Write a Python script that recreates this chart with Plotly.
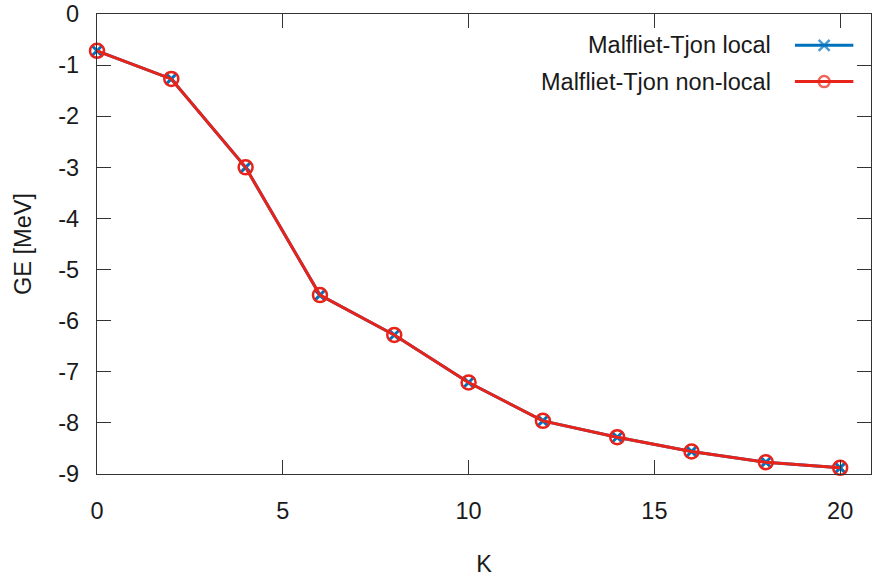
import plotly.graph_objects as go

# Ground-state energy vs. K for the Malfliet-Tjon potential
K = [0, 2, 4, 6, 8, 10, 12, 14, 16, 18, 20]
ge_local = [-0.72, -1.27, -3.00, -5.50, -6.28, -7.21, -7.96, -8.28, -8.56, -8.77, -8.88]
ge_nonlocal = [-0.72, -1.27, -3.00, -5.50, -6.28, -7.21, -7.96, -8.28, -8.56, -8.77, -8.88]

series_names = ["Malfliet-Tjon local", "Malfliet-Tjon non-local"]
x_ticks = [0, 5, 10, 15, 20]
y_ticks = list(range(-9, 1))

blue = "#0072bd"
red = "#e8231a"
FONT = "Liberation Sans"
FS = 23.5
TXT = "#1a1a1a"

fig = go.Figure()

fig.add_trace(go.Scatter(
    x=K, y=ge_local, mode="lines+markers", name=series_names[0],
    line=dict(color=blue, width=3),
    marker=dict(symbol="x-thin", size=11, line=dict(color=blue, width=3)),
    showlegend=False, cliponaxis=False,
))
fig.add_trace(go.Scatter(
    x=K, y=ge_nonlocal, mode="lines+markers", name=series_names[1],
    line=dict(color=red, width=3),
    marker=dict(symbol="circle-open", size=14, color=red, line=dict(color=red, width=2.5)),
    showlegend=False, cliponaxis=False,
))

# Key drawn in a hidden side frame: text on the left, sample on the right
key_rows = [0.932, 0.853]
key_x = [0.0, 0.5, 1.0]
for name, color, sym, msize, row in [
    (series_names[0], blue, "x-thin", 11, key_rows[0]),
    (series_names[1], red, "circle-open", 11, key_rows[1]),
]:
    fig.add_trace(go.Scatter(
        x=key_x, y=[row] * 3, xaxis="x2", yaxis="y2", mode="lines+markers",
        line=dict(color=color, width=3),
        marker=dict(symbol=sym, size=[0, msize, 0], color=color,
                    line=dict(color=color, width=2.5)),
        showlegend=False, hoverinfo="skip", cliponaxis=False,
    ))
    fig.add_annotation(
        x=0.873, y=row, xref="paper", yref="paper", text=name,
        showarrow=False, xanchor="right", yanchor="middle",
        font=dict(family=FONT, size=FS, color=TXT),
    )

axis_common = dict(
    showgrid=False, zeroline=False, showline=True, linecolor="#333333", linewidth=1.2,
    mirror="allticks", ticks="inside", ticklen=14, tickcolor="#333333", tickwidth=1.2,
    tickfont=dict(family=FONT, size=FS, color=TXT), ticklabeloverflow="allow",
)

fig.update_layout(
    width=873, height=578,
    margin=dict(l=97, r=1, t=11, b=104),
    paper_bgcolor="white", plot_bgcolor="rgba(0,0,0,0)",
    xaxis=dict(range=[0, 20.83], tickvals=x_ticks, ticktext=[str(v) for v in x_ticks],
               ticklabelstandoff=16,
               title=dict(text="K", font=dict(family=FONT, size=FS, color=TXT), standoff=32),
               **axis_common),
    yaxis=dict(range=[-9, 0.0001], tickvals=y_ticks, ticktext=[str(v) for v in y_ticks],
               ticklabelstandoff=12,
               title=dict(text="GE [MeV]", font=dict(family=FONT, size=FS, color=TXT), standoff=20),
               **axis_common),
    xaxis2=dict(domain=[0.9015, 0.9775], range=[0, 1], visible=False, anchor="y2"),
    yaxis2=dict(domain=[0, 1], range=[0, 1], visible=False, anchor="x2"),
)

fig.write_html("out.html")
